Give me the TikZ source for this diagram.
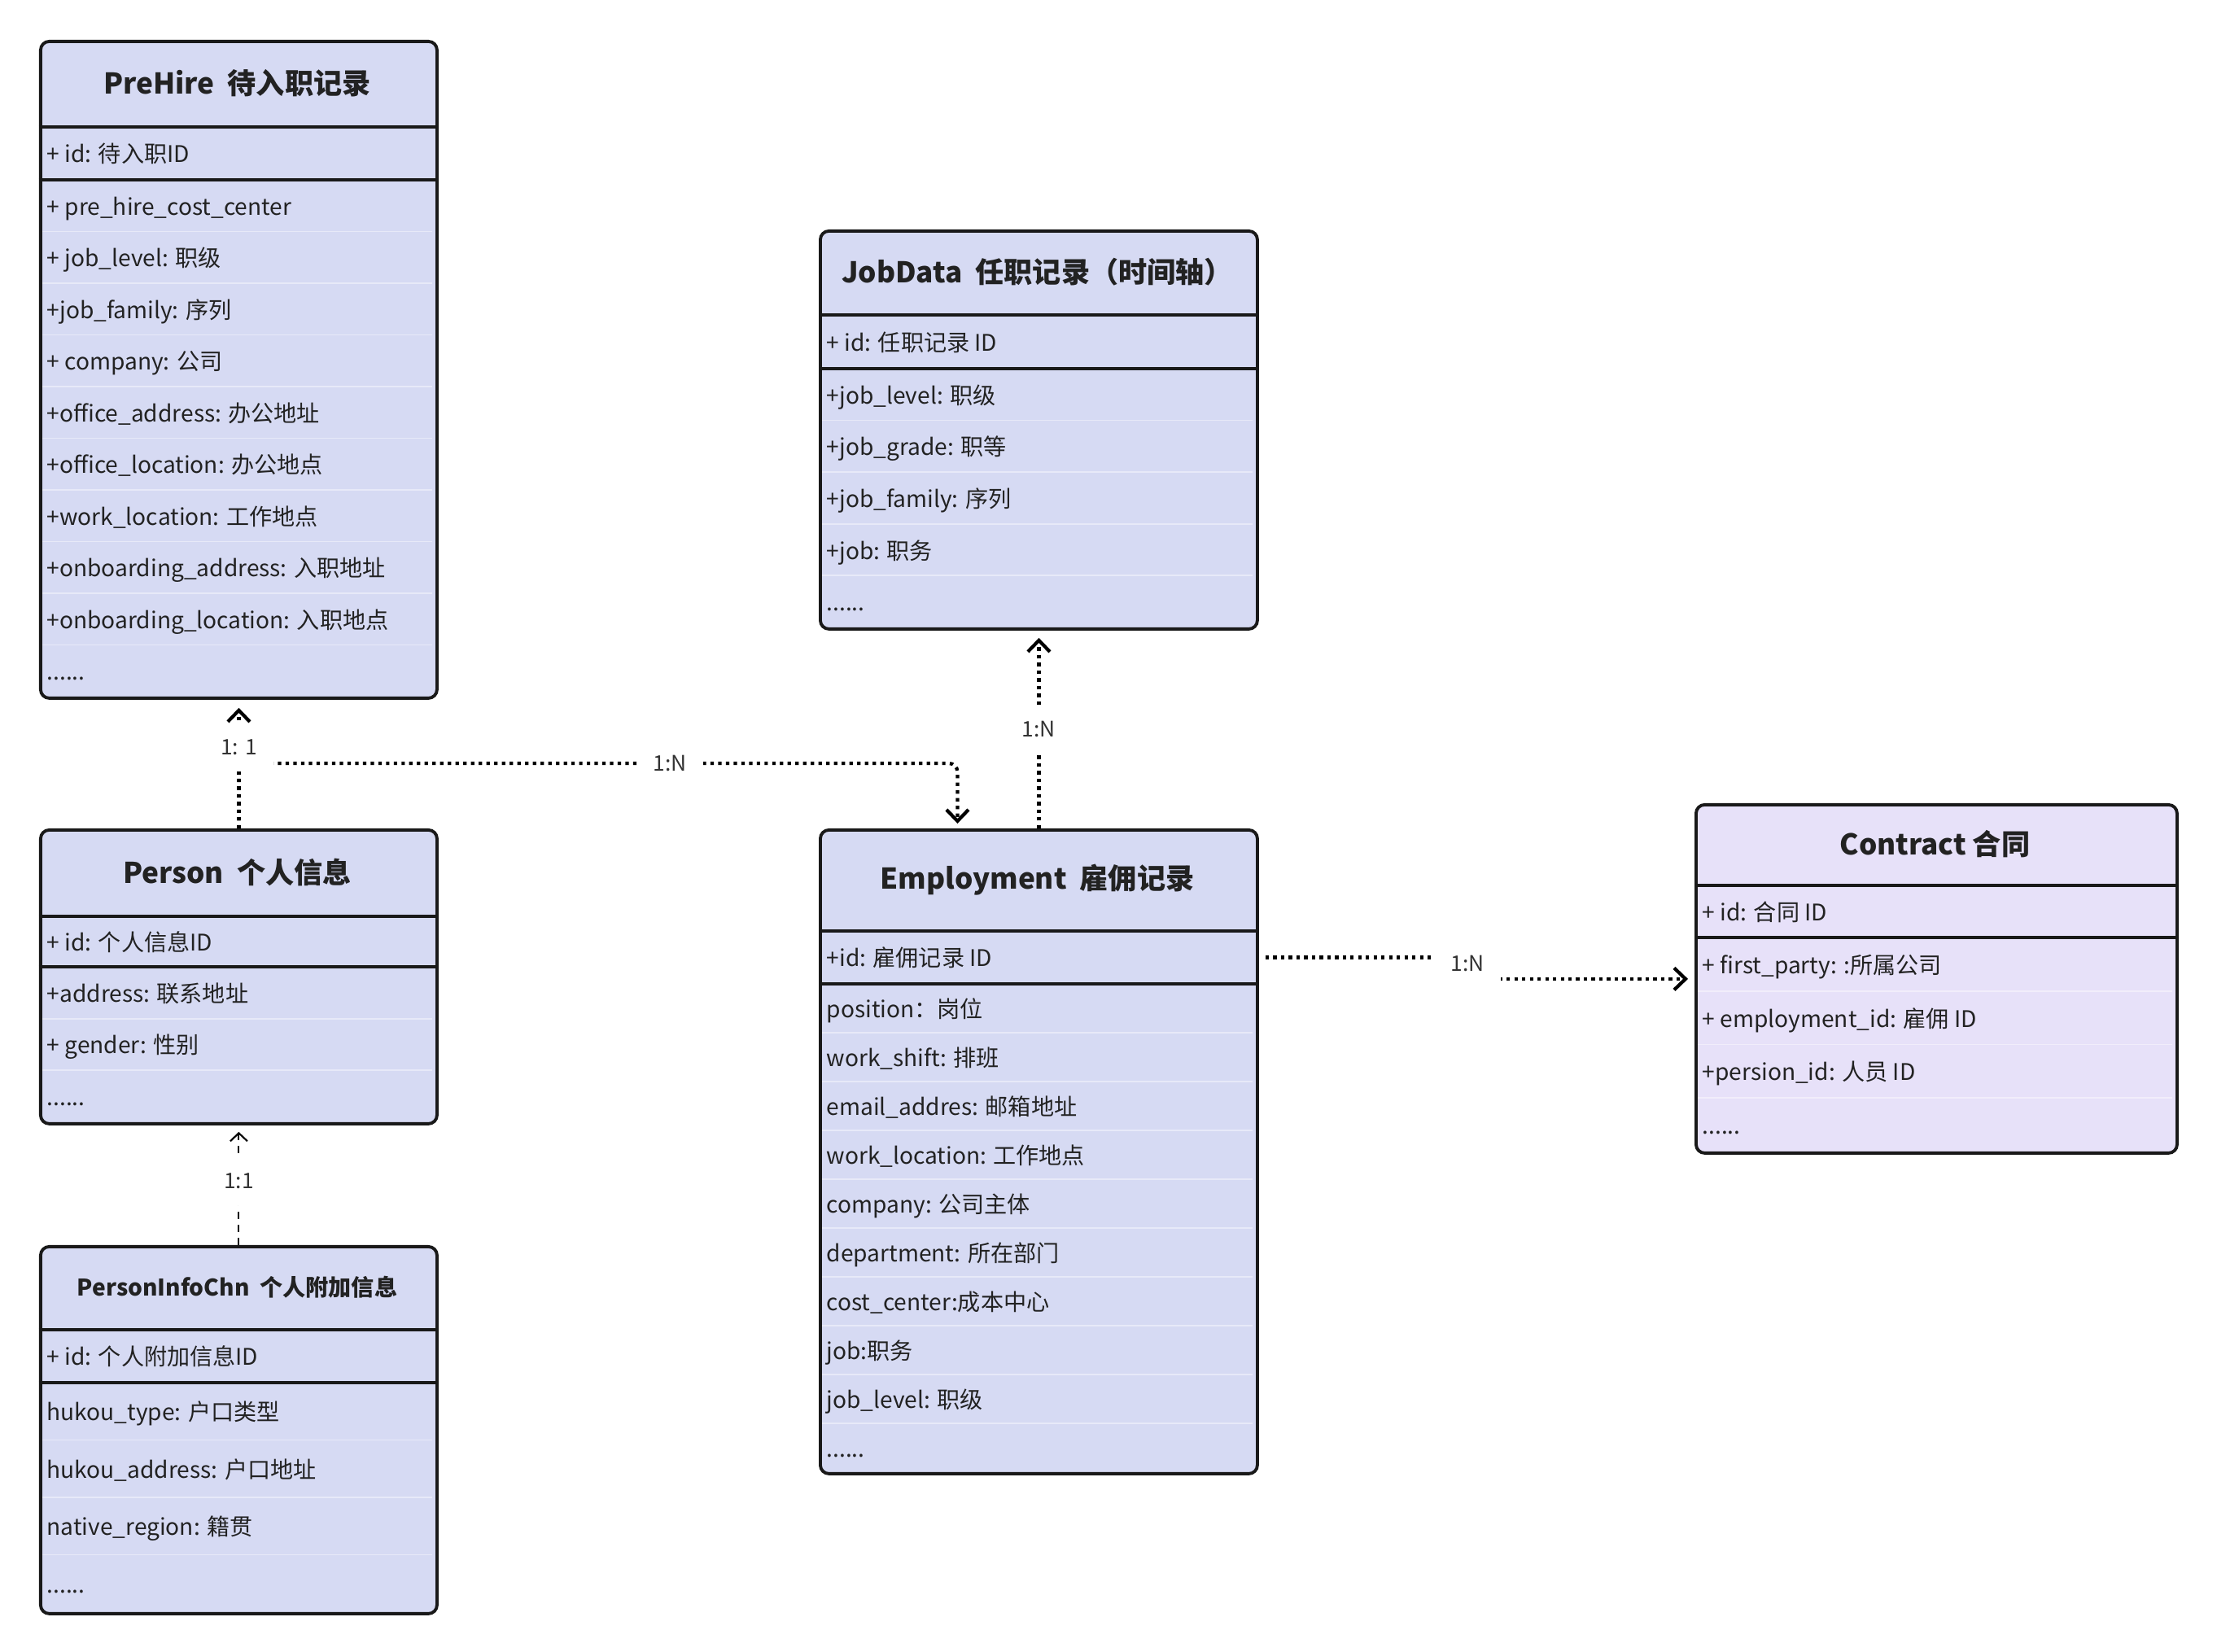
\documentclass[tikz,border=0pt]{standalone}
\usepackage{fontspec}
\setmainfont{Noto Sans CJK SC}
\usetikzlibrary{arrows.meta,calc}

\definecolor{boxblue}{HTML}{D6DAF3}
\definecolor{boxpurple}{HTML}{E7E1F9}
\definecolor{inkgray}{HTML}{222222}
\definecolor{relgray}{HTML}{333333}
\newcommand{\rowdots}{......}

\tikzset{
  classbox/.style={draw=black!90, line width=1.1pt, rounded corners=3pt, inner sep=0pt, anchor=north west},
  classtitle/.style={font=\fontsize{10}{12}\selectfont\bfseries, text=inkgray, inner sep=0pt},
  fieldtext/.style={font=\fontsize{8}{10}\selectfont, text=inkgray, anchor=west, inner sep=0pt, text height=1.7ex, text depth=0.5ex},
  sepline/.style={line width=1.1pt, black!90},
  rowline/.style={line width=0.5pt, boxblue!60!white},
  relline/.style={line width=1.2pt, dash pattern=on 1.2pt off 1.5pt, -{Straight Barb[length=1.4mm,width=2.7mm]}},
  dashrel/.style={line width=0.6pt, dash pattern=on 2.6pt off 2pt, -{Straight Barb[length=1mm,width=2.1mm]}},
  rellabel/.style={fill=white, inner sep=0.2cm, font=\fontsize{7.5}{9}\selectfont, text=relgray},
}

\begin{document}
\begin{tikzpicture}
    \useasboundingbox (0,0) rectangle (27.24,20.30);
    \fill[white] (0,0) rectangle (27.24,20.30);

    % PreHire 待入职记录
    \node[classbox, fill=boxblue, minimum width=4.87cm, minimum height=8.07cm] (prehire) at (0.48,19.81) {};
    \foreach \i in {1,...,9} {
        \draw[rowline] (0.52,{18.09-0.635*\i}) -- (5.31,{18.09-0.635*\i});
    }
    \draw[sepline] (0.48,18.74) -- (5.35,18.74);
    \draw[sepline] (0.48,18.09) -- (5.35,18.09);
    \node[classtitle] (prehire-title) at (2.915,19.275) {PreHire~ 待入职记录};
    \node[fieldtext] (prehire-id) at (0.57,18.415) {+ id: 待入职ID};
    \foreach \t [count=\i] in {+ pre\_hire\_cost\_center, + job\_level: 职级, +job\_family: 序列,
        + company: 公司, +office\_address: 办公地址, +office\_location: 办公地点,
        +work\_location: 工作地点, +onboarding\_address: 入职地址, +onboarding\_location: 入职地点, \rowdots} {
        \node[fieldtext] (prehire-r\i) at (0.57,{18.09-0.635*(\i-0.5)}) {\t};
    }

    % JobData 任职记录（时间轴）
    \node[classbox, fill=boxblue, minimum width=5.37cm, minimum height=4.89cm] (jobdata) at (10.06,17.48) {};
    \foreach \i in {1,...,4} {
        \draw[rowline] (10.10,{15.77-0.636*\i}) -- (15.39,{15.77-0.636*\i});
    }
    \draw[sepline] (10.06,16.43) -- (15.43,16.43);
    \draw[sepline] (10.06,15.77) -- (15.43,15.77);
    \node[classtitle] (jobdata-title) at (12.745,16.955) {JobData~ 任职记录（时间轴）};
    \node[fieldtext] (jobdata-id) at (10.15,16.10) {+ id: 任职记录 ID};
    \foreach \t [count=\i] in {+job\_level: 职级, +job\_grade: 职等, +job\_family: 序列, +job: 职务, \rowdots} {
        \node[fieldtext] (jobdata-r\i) at (10.15,{15.77-0.636*(\i-0.5)}) {\t};
    }

    % Person 个人信息
    \node[classbox, fill=boxblue, minimum width=4.87cm, minimum height=3.61cm] (person) at (0.48,10.12) {};
    \foreach \i in {1,2} {
        \draw[rowline] (0.52,{8.42-0.637*\i}) -- (5.31,{8.42-0.637*\i});
    }
    \draw[sepline] (0.48,9.04) -- (5.35,9.04);
    \draw[sepline] (0.48,8.42) -- (5.35,8.42);
    \node[classtitle] (person-title) at (2.915,9.58) {Person~ 个人信息};
    \node[fieldtext] (person-id) at (0.57,8.73) {+ id: 个人信息ID};
    \foreach \t [count=\i] in {+address: 联系地址, + gender: 性别, \rowdots} {
        \node[fieldtext] (person-r\i) at (0.57,{8.42-0.637*(\i-0.5)}) {\t};
    }

    % PersonInfoChn 个人附加信息
    \node[classbox, fill=boxblue, minimum width=4.87cm, minimum height=4.51cm] (personinfo) at (0.48,5.00) {};
    \foreach \i in {1,...,3} {
        \draw[rowline] (0.52,{3.31-0.705*\i}) -- (5.31,{3.31-0.705*\i});
    }
    \draw[sepline] (0.48,3.96) -- (5.35,3.96);
    \draw[sepline] (0.48,3.31) -- (5.35,3.31);
    \node[classtitle, font=\fontsize{8}{10}\selectfont\bfseries] (personinfo-title) at (2.915,4.48) {PersonInfoChn~ 个人附加信息};
    \node[fieldtext] (personinfo-id) at (0.57,3.635) {+ id: 个人附加信息ID};
    \foreach \t [count=\i] in {hukou\_type: 户口类型, hukou\_address: 户口地址, native\_region: 籍贯, \rowdots} {
        \node[fieldtext] (personinfo-r\i) at (0.57,{3.31-0.705*(\i-0.5)}) {\t};
    }

    % Employment 雇佣记录
    \node[classbox, fill=boxblue, minimum width=5.37cm, minimum height=7.91cm] (employment) at (10.06,10.12) {};
    \foreach \i in {1,...,9} {
        \draw[rowline] (10.10,{8.21-0.60*\i}) -- (15.39,{8.21-0.60*\i});
    }
    \draw[sepline] (10.06,8.86) -- (15.43,8.86);
    \draw[sepline] (10.06,8.21) -- (15.43,8.21);
    \node[classtitle] (employment-title) at (12.745,9.49) {Employment~ 雇佣记录};
    \node[fieldtext] (employment-id) at (10.15,8.535) {+id: 雇佣记录 ID};
    \foreach \t [count=\i] in {position：岗位, work\_shift: 排班, email\_addres: 邮箱地址,
        work\_location: 工作地点, company: 公司主体, department: 所在部门,
        cost\_center:成本中心, job:职务, job\_level: 职级, \rowdots} {
        \node[fieldtext] (employment-r\i) at (10.15,{8.21-0.60*(\i-0.5)}) {\t};
    }

    % Contract 合同
    \node[classbox, fill=boxpurple, minimum width=5.91cm, minimum height=4.28cm] (contract) at (20.82,10.43) {};
    \foreach \i in {1,...,3} {
        \draw[rowline, boxpurple!60!white] (20.86,{8.78-0.6575*\i}) -- (26.69,{8.78-0.6575*\i});
    }
    \draw[sepline] (20.82,9.42) -- (26.73,9.42);
    \draw[sepline] (20.82,8.78) -- (26.73,8.78);
    \node[classtitle] (contract-title) at (23.775,9.925) {Contract 合同};
    \node[fieldtext] (contract-id) at (20.91,9.10) {+ id: 合同 ID};
    \foreach \t [count=\i] in {+ first\_party: :所属公司, + employment\_id: 雇佣 ID, +persion\_id: 人员 ID, \rowdots} {
        \node[fieldtext] (contract-r\i) at (20.91,{8.78-0.6575*(\i-0.5)}) {\t};
    }

    % 关系连线
    \draw[relline, rounded corners=3pt, shorten >=0.06cm] (person.north) -- ++(0,0.8)
        -| ([xshift=-1cm]employment.north) node[pos=0.3, rellabel] (rel-per-emp) {1:N};
    \draw[relline, shorten >=0.1cm] (person.north) -- (prehire.south)
        node[pos=0.63, rellabel] (rel-per-pre) {1: 1};
    \draw[relline, shorten >=0.09cm] (employment.north) -- (jobdata.south)
        node[midway, rellabel] (rel-emp-job) {1:N};
    \draw[relline, shorten <=0.08cm, shorten >=0.08cm] (employment.east |- employment-id)
        -| ([xshift=-2.8cm]contract.west) -- (contract.west);
    \node[rellabel] (rel-emp-con) at (18.03,8.46) {1:N};
    \draw[dashrel, shorten >=0.08cm] (personinfo.north) -- (person.south)
        node[pos=0.536, rellabel] (rel-info-per) {1:1};
\end{tikzpicture}
\end{document}
